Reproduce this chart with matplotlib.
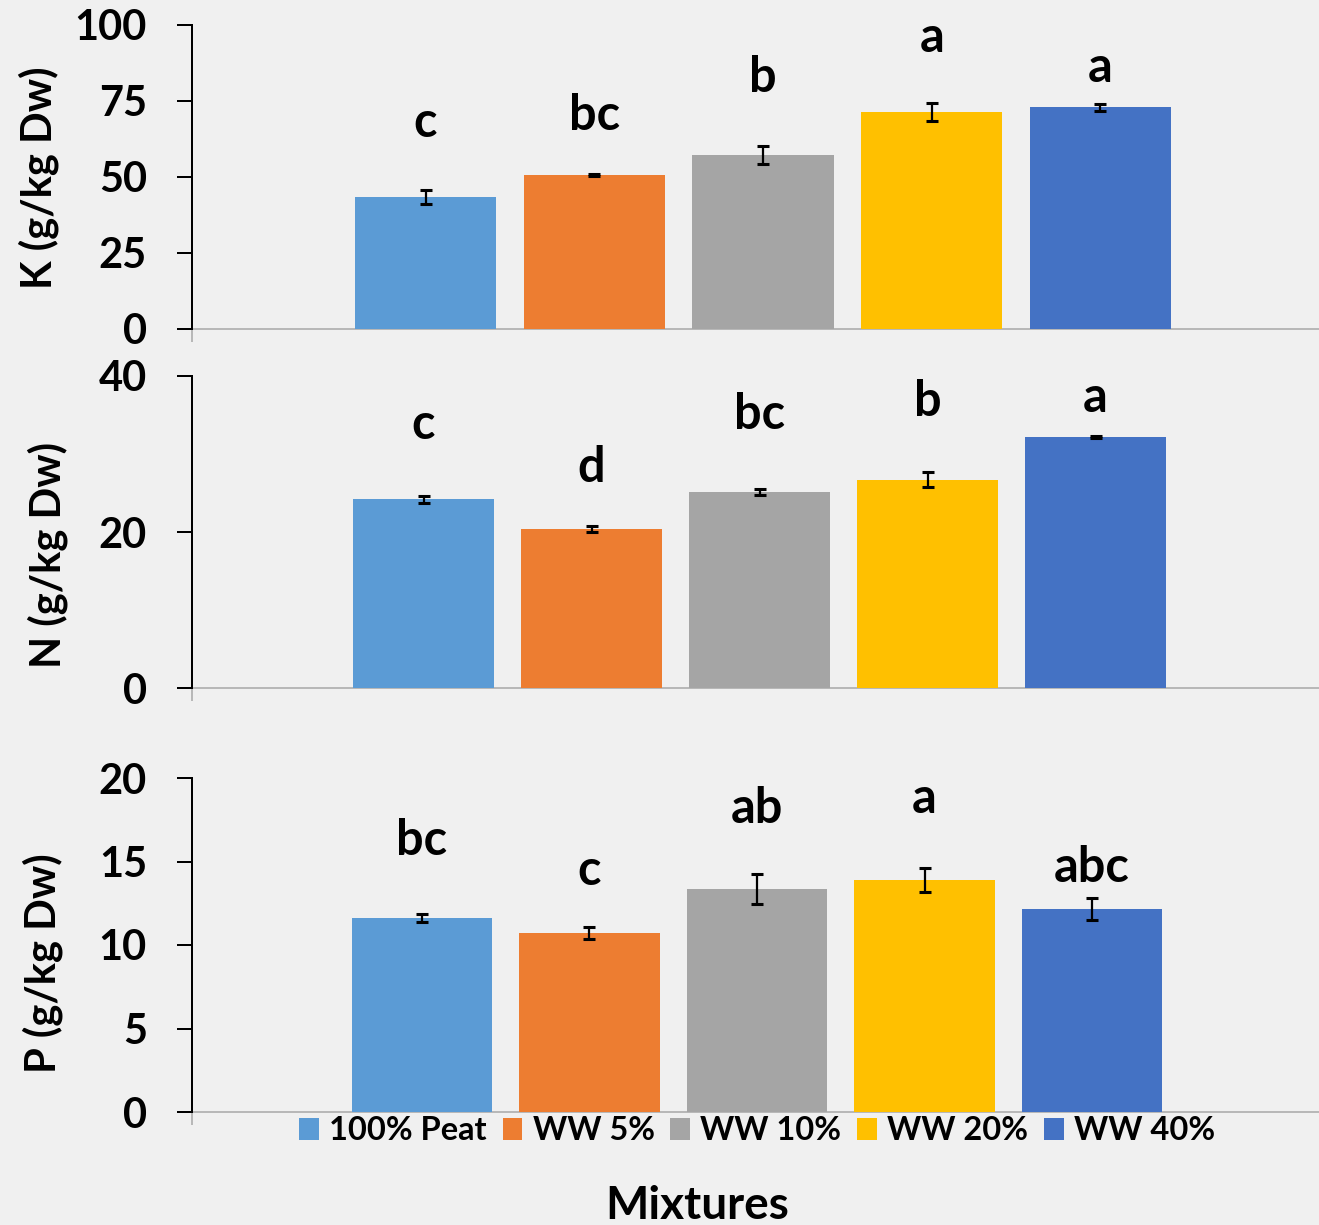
import matplotlib
matplotlib.use("Agg")
import matplotlib.pyplot as plt
from matplotlib.patches import Patch

plt.rcParams['font.family'] = ['Lato', 'DejaVu Sans']
plt.rcParams['font.weight'] = 'bold'

# ---------------- data ----------------
mixtures = ["100% Peat", "WW 5%", "WW 10%", "WW 20%", "WW 40%"]
colors = ["#5B9BD5", "#ED7D31", "#A5A5A5", "#FFC000", "#4472C4"]

k_vals = [43.4, 50.7, 57.2, 71.4, 73.0]
k_err = [2.3, 0.3, 3.0, 2.9, 1.15]
k_letters = ["c", "bc", "b", "a", "a"]
k_letter_y = [63.1, 65.5, 77.9, 91.2, 81.4]

n_vals = [24.2, 20.4, 25.1, 26.7, 32.2]
n_err = [0.45, 0.34, 0.38, 0.98, 0.12]
n_letters = ["c", "d", "bc", "b", "a"]
n_letter_y = [31.9, 26.4, 33.2, 34.9, 35.4]

p_vals = [11.62, 10.72, 13.35, 13.89, 12.16]
p_err = [0.26, 0.35, 0.9, 0.7, 0.67]
p_letters = ["bc", "c", "ab", "a", "abc"]
p_letter_y = [15.4, 13.6, 17.3, 17.9, 13.8]

W, H = 1319, 1225
BG = "#f0f0f0"
fig = plt.figure(figsize=(W / 100, H / 100), dpi=100, facecolor=BG)

px = 0.72  # points per pixel at dpi 100

panels = [
    # (vals, err, letters, letter_y, ylabel, ylim, yticks, top_px, bottom_px, xlim, label_xy)
    (k_vals, k_err, k_letters, k_letter_y, "K (g/kg Dw)", (0, 100), [0, 25, 50, 75, 100],
     25, 329, (-1.384, 5.295), (39, 178)),
    (n_vals, n_err, n_letters, n_letter_y, "N (g/kg Dw)", (0, 40), [0, 20, 40],
     376, 688, (-1.378, 5.330), (48, 555)),
    (p_vals, p_err, p_letters, p_letter_y, "P (g/kg Dw)", (0, 20), [0, 5, 10, 15, 20],
     778, 1112, (-1.373, 5.355), (43, 963)),
]

left_px = 192
for vals, errs, letters, ly, ylabel, ylim, yticks, top, bot, xlim, lxy in panels:
    ax = fig.add_axes([left_px / W, 1 - bot / H, (W - left_px) / W, (bot - top) / H])
    ax.set_facecolor(BG)
    x = list(range(len(vals)))
    ax.bar(x, vals, width=0.836, color=colors, zorder=2)
    ax.errorbar(x, vals, yerr=errs, fmt='none', ecolor='black',
                elinewidth=1.6, capsize=4.6, capthick=2.2, zorder=3)
    for xi, lab, yy in zip(x, letters, ly):
        ax.text(xi, yy, lab, ha='center', va='baseline', fontsize=35,
                fontweight='bold', color='black', zorder=4)
    ax.set_xlim(*xlim)
    ax.set_ylim(*ylim)
    ax.set_yticks(yticks)
    ax.set_yticklabels([str(t) for t in yticks], fontsize=30, fontweight='bold')
    ax.tick_params(axis='y', length=15 * px, width=2 * px, pad=30 * px, color='black')
    ax.set_xticks([xlim[0]])
    ax.set_xticklabels([""])
    ax.tick_params(axis='x', length=13 * px, width=1.5 * px, color='#a6a6a6', direction='out')
    for s in ['top', 'right']:
        ax.spines[s].set_visible(False)
    ax.spines['left'].set_color('black')
    ax.spines['left'].set_linewidth(2 * px)
    ax.spines['bottom'].set_color('#a6a6a6')
    ax.spines['bottom'].set_linewidth(1.5 * px)
    ax.spines['bottom'].set_zorder(1)
    fig.text(lxy[0] / W, 1 - lxy[1] / H, ylabel, rotation=90, ha='center', va='center',
             fontsize=30, fontweight='bold')

handles = [Patch(facecolor=c, edgecolor='none', label=m) for c, m in zip(colors, mixtures)]
fig.legend(handles=handles, loc='center', bbox_to_anchor=(757 / W, 1 - 1131 / H),
           ncol=5, frameon=False, fontsize=23.5, handlelength=0.61, handleheight=0.64,
           handletextpad=0.31, columnspacing=0.48, borderaxespad=0, borderpad=0)

fig.text(697 / W, 1 - 1219 / H, "Mixtures", ha='center', va='baseline', fontsize=33,
         fontweight='bold')

fig.savefig("out.png", dpi=100, facecolor=BG)
